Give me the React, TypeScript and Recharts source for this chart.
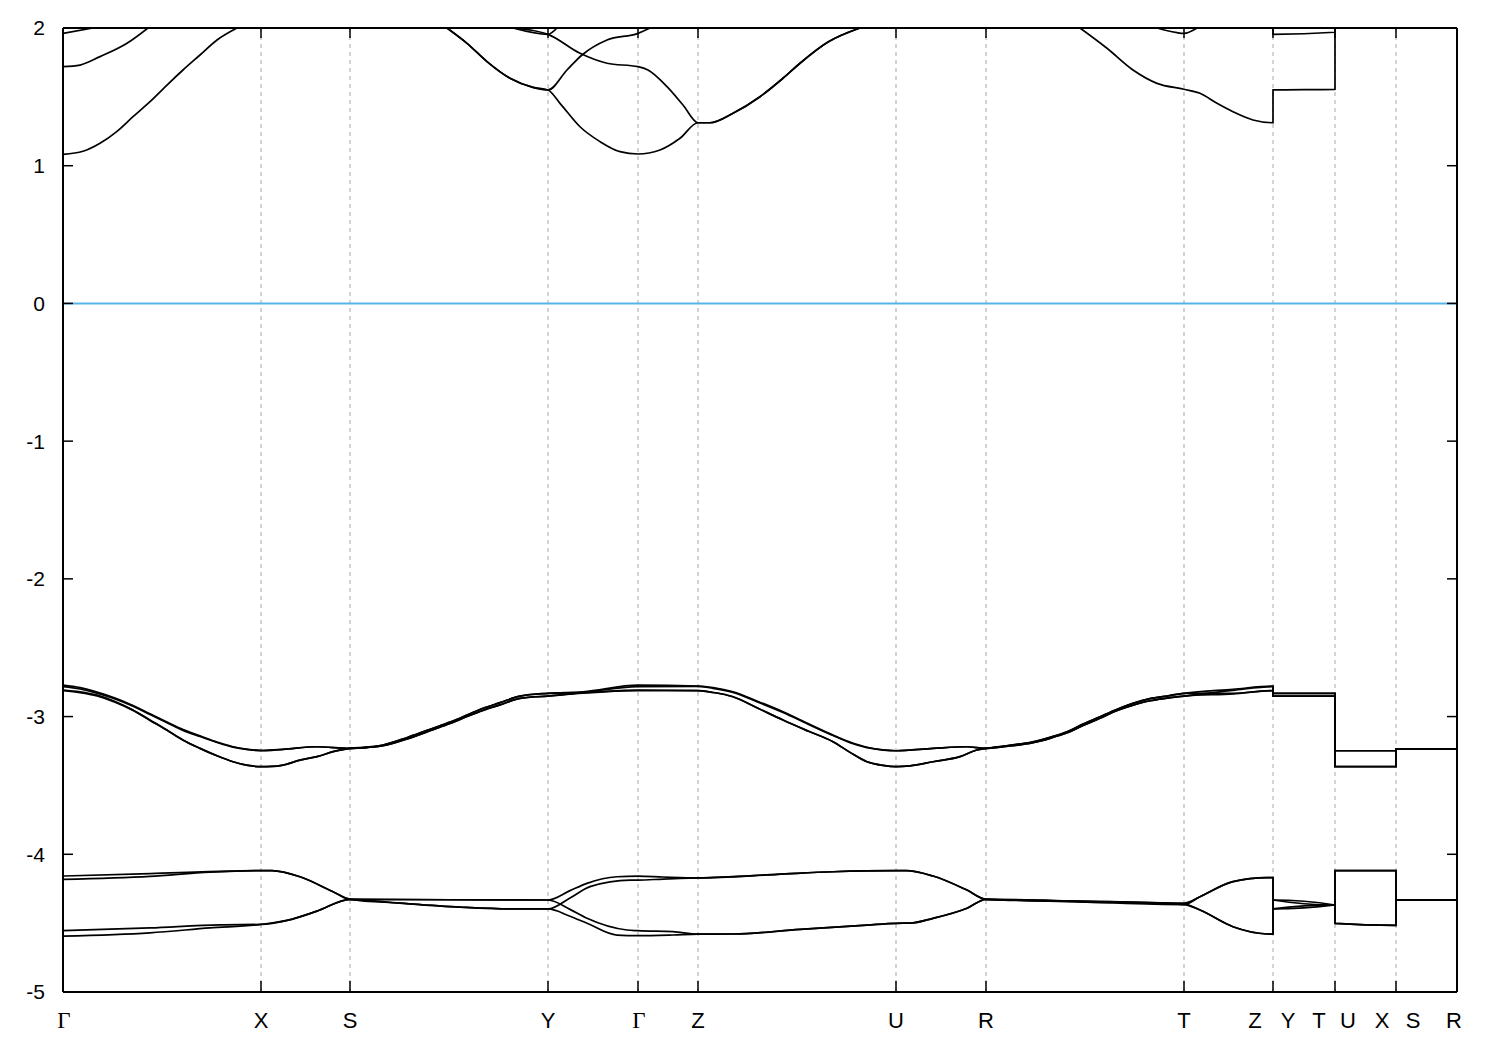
import React from "react";
import { LineChart, Line, XAxis, YAxis, CartesianGrid, ReferenceLine } from "recharts";

// k-path positions (path length units) and their labels
const KPOS = [0, 1.98, 2.87, 4.85, 5.75, 6.35, 8.33, 9.23, 11.21, 12.1, 12.72, 13.33, 13.94];
const KLABELS = ["Γ", "X", "S", "Y", "Γ", "Z", "U", "R", "T", "Z|Y", "T|U", "X|S", "R"];
const ETICKS = [-5, -4, -3, -2, -1, 0, 1, 2];

type Pt = [number, number | null];

// valence bands, upper group (~ -2.8 .. -3.4 eV)
const A1: Pt[] = [[0,-2.772],[0.17,-2.79],[0.34,-2.822],[0.52,-2.865],[0.7,-2.92],[0.87,-2.98],[1.04,-3.04],[1.2,-3.095],[1.37,-3.14],[1.54,-3.185],[1.7,-3.219],[1.85,-3.238],[1.98,-3.245],[2.2,-3.238],[2.54,-3.219],[2.87,-3.231],[3.04,-3.222],[3.2,-3.207],[3.45,-3.15],[3.7,-3.085],[3.87,-3.04],[4.04,-2.989],[4.2,-2.94],[4.37,-2.899],[4.57,-2.851],[4.85,-2.831],[5.2,-2.82],[5.75,-2.772],[6.35,-2.779],[6.5,-2.79],[6.7,-2.82],[6.95,-2.89],[7.2,-2.965],[7.45,-3.05],[7.7,-3.134],[7.87,-3.185],[8.04,-3.223],[8.2,-3.242],[8.33,-3.248],[8.7,-3.231],[9.04,-3.219],[9.23,-3.231],[9.45,-3.21],[9.7,-3.183],[9.87,-3.15],[10.04,-3.11],[10.2,-3.055],[10.37,-3.001],[10.53,-2.95],[10.7,-2.904],[10.87,-2.87],[11.04,-2.851],[11.21,-2.831],[11.7,-2.802],[12.1,-2.779],[12.1,-2.831],[12.72,-2.831],[12.72,-3.248],[13.33,-3.248],[13.33,-3.235],[13.94,-3.235]];
const A2: Pt[] = [[0,-2.783],[0.17,-2.8],[0.34,-2.83],[0.52,-2.872],[0.7,-2.925],[0.87,-2.985],[1.04,-3.045],[1.2,-3.1],[1.37,-3.145],[1.54,-3.188],[1.7,-3.222],[1.85,-3.24],[1.98,-3.248],[2.2,-3.238],[2.54,-3.219],[2.87,-3.231],[3.04,-3.225],[3.2,-3.212],[3.45,-3.16],[3.7,-3.095],[3.87,-3.05],[4.04,-3.0],[4.2,-2.955],[4.37,-2.915],[4.57,-2.868],[4.85,-2.851],[5.2,-2.825],[5.75,-2.783],[6.35,-2.781],[6.5,-2.795],[6.7,-2.825],[6.95,-2.895],[7.2,-2.97],[7.45,-3.055],[7.7,-3.138],[7.87,-3.19],[8.04,-3.226],[8.2,-3.243],[8.33,-3.248],[8.7,-3.231],[9.04,-3.219],[9.23,-3.231],[9.45,-3.215],[9.7,-3.19],[9.87,-3.158],[10.04,-3.118],[10.2,-3.065],[10.37,-3.012],[10.53,-2.96],[10.7,-2.918],[10.87,-2.885],[11.04,-2.866],[11.21,-2.851],[11.7,-2.81],[12.1,-2.783],[12.1,-2.851],[12.72,-2.851],[12.72,-3.248],[13.33,-3.248],[13.33,-3.235],[13.94,-3.235]];
const A3: Pt[] = [[0,-2.807],[0.17,-2.82],[0.34,-2.844],[0.52,-2.89],[0.7,-2.952],[0.87,-3.025],[1.04,-3.098],[1.2,-3.17],[1.37,-3.231],[1.54,-3.285],[1.7,-3.328],[1.85,-3.355],[1.98,-3.364],[2.09,-3.362],[2.2,-3.352],[2.37,-3.316],[2.54,-3.291],[2.7,-3.255],[2.87,-3.231],[3.04,-3.222],[3.2,-3.207],[3.45,-3.15],[3.7,-3.085],[3.87,-3.04],[4.04,-2.989],[4.2,-2.94],[4.37,-2.899],[4.57,-2.851],[4.85,-2.831],[5.2,-2.825],[5.75,-2.807],[6.35,-2.812],[6.5,-2.825],[6.7,-2.856],[6.95,-2.94],[7.2,-3.025],[7.45,-3.105],[7.7,-3.183],[7.87,-3.26],[8.04,-3.328],[8.2,-3.355],[8.33,-3.364],[8.47,-3.358],[8.7,-3.328],[8.97,-3.291],[9.14,-3.243],[9.23,-3.231],[9.45,-3.21],[9.7,-3.183],[9.87,-3.15],[10.04,-3.11],[10.2,-3.055],[10.37,-3.001],[10.53,-2.95],[10.7,-2.904],[10.87,-2.87],[11.04,-2.851],[11.21,-2.831],[11.7,-2.831],[12.1,-2.812],[12.1,-2.831],[12.72,-2.831],[12.72,-3.364],[13.33,-3.364],[13.33,-3.235],[13.94,-3.235]];
const A4: Pt[] = [[0,-2.812],[0.17,-2.826],[0.34,-2.85],[0.52,-2.895],[0.7,-2.955],[0.87,-3.028],[1.04,-3.1],[1.2,-3.172],[1.37,-3.231],[1.54,-3.285],[1.7,-3.328],[1.85,-3.355],[1.98,-3.364],[2.09,-3.362],[2.2,-3.352],[2.37,-3.316],[2.54,-3.291],[2.7,-3.255],[2.87,-3.231],[3.04,-3.225],[3.2,-3.212],[3.45,-3.16],[3.7,-3.095],[3.87,-3.05],[4.04,-3.0],[4.2,-2.955],[4.37,-2.915],[4.57,-2.868],[4.85,-2.851],[5.2,-2.83],[5.75,-2.812],[6.35,-2.812],[6.5,-2.825],[6.7,-2.856],[6.95,-2.94],[7.2,-3.025],[7.45,-3.105],[7.7,-3.183],[7.87,-3.26],[8.04,-3.328],[8.2,-3.355],[8.33,-3.364],[8.47,-3.358],[8.7,-3.328],[8.97,-3.291],[9.14,-3.243],[9.23,-3.231],[9.45,-3.215],[9.7,-3.19],[9.87,-3.158],[10.04,-3.118],[10.2,-3.065],[10.37,-3.012],[10.53,-2.96],[10.7,-2.918],[10.87,-2.885],[11.04,-2.866],[11.21,-2.851],[11.7,-2.835],[12.1,-2.812],[12.1,-2.851],[12.72,-2.851],[12.72,-3.364],[13.33,-3.364],[13.33,-3.235],[13.94,-3.235]];

// valence bands, lower group (~ -4.1 .. -4.6 eV)
const B1: Pt[] = [[0,-4.158],[0.87,-4.14],[1.67,-4.122],[1.98,-4.119],[2.09,-4.119],[2.37,-4.163],[2.7,-4.272],[2.87,-4.327],[3.87,-4.33],[4.85,-4.332],[5.07,-4.264],[5.24,-4.211],[5.54,-4.163],[5.75,-4.158],[6.0,-4.165],[6.35,-4.172],[7.14,-4.146],[7.7,-4.127],[8.33,-4.119],[8.43,-4.119],[8.7,-4.158],[9.04,-4.26],[9.23,-4.327],[10.17,-4.34],[11.21,-4.355],[11.37,-4.308],[11.7,-4.199],[12.04,-4.17],[12.1,-4.17],[12.1,-4.332],[12.72,-4.368],[12.72,-4.119],[13.33,-4.119],[13.33,-4.332],[13.94,-4.332]];
const B2: Pt[] = [[0,-4.182],[0.87,-4.16],[1.47,-4.13],[1.98,-4.119],[2.09,-4.119],[2.37,-4.163],[2.7,-4.272],[2.87,-4.327],[3.37,-4.355],[3.97,-4.384],[4.47,-4.397],[4.85,-4.397],[5.07,-4.317],[5.27,-4.235],[5.67,-4.187],[5.75,-4.187],[6.0,-4.18],[6.35,-4.172],[7.14,-4.146],[7.7,-4.127],[8.33,-4.119],[8.43,-4.119],[8.7,-4.158],[9.04,-4.26],[9.23,-4.327],[10.17,-4.345],[11.21,-4.365],[11.37,-4.308],[11.7,-4.199],[12.04,-4.17],[12.1,-4.17],[12.1,-4.397],[12.72,-4.368],[12.72,-4.119],[13.33,-4.119],[13.33,-4.332],[13.94,-4.332]];
const B3: Pt[] = [[0,-4.555],[0.87,-4.535],[1.57,-4.512],[1.98,-4.509],[2.24,-4.48],[2.54,-4.413],[2.87,-4.327],[3.87,-4.33],[4.85,-4.332],[5.07,-4.4],[5.24,-4.465],[5.64,-4.55],[5.75,-4.555],[6.1,-4.562],[6.35,-4.579],[6.7,-4.579],[7.37,-4.545],[8.04,-4.514],[8.33,-4.501],[8.47,-4.5],[8.7,-4.465],[9.04,-4.392],[9.23,-4.327],[10.17,-4.34],[11.21,-4.36],[11.37,-4.405],[11.7,-4.526],[12.04,-4.579],[12.1,-4.58],[12.1,-4.332],[12.72,-4.368],[12.72,-4.501],[13.33,-4.516],[13.33,-4.332],[13.94,-4.332]];
const B4: Pt[] = [[0,-4.594],[0.87,-4.57],[1.47,-4.535],[1.98,-4.509],[2.24,-4.48],[2.54,-4.413],[2.87,-4.327],[3.37,-4.355],[3.97,-4.384],[4.47,-4.397],[4.85,-4.397],[5.07,-4.45],[5.24,-4.501],[5.54,-4.587],[5.75,-4.591],[6.1,-4.586],[6.35,-4.58],[6.7,-4.579],[7.37,-4.545],[8.04,-4.514],[8.33,-4.501],[8.47,-4.5],[8.7,-4.465],[9.04,-4.392],[9.23,-4.327],[10.17,-4.345],[11.21,-4.365],[11.37,-4.405],[11.7,-4.526],[12.04,-4.579],[12.1,-4.58],[12.1,-4.397],[12.72,-4.368],[12.72,-4.501],[13.33,-4.516],[13.33,-4.332],[13.94,-4.332]];

// conduction bands (null = outside the 2 eV window)
const C1: Pt[] = [[0,1.083],[0.2,1.105],[0.37,1.163],[0.54,1.25],[0.7,1.356],[0.87,1.465],[1.04,1.586],[1.2,1.695],[1.37,1.804],[1.54,1.913],[1.74,2.0],[2.8,null],[3.84,2.0],[4.04,1.889],[4.24,1.756],[4.47,1.635],[4.7,1.569],[4.85,1.55],[4.97,1.453],[5.17,1.283],[5.37,1.175],[5.57,1.102],[5.75,1.085],[5.97,1.114],[6.17,1.199],[6.35,1.312],[6.47,1.312],[6.7,1.381],[6.97,1.501],[7.2,1.635],[7.37,1.744],[7.65,1.898],[7.97,2.0],[9.0,null],[10.17,2.0],[10.44,1.853],[10.7,1.695],[10.94,1.598],[11.21,1.555],[11.37,1.526],[11.54,1.453],[11.7,1.392],[11.9,1.332],[12.1,1.312],[12.1,1.55],[12.72,1.555],[12.72,2.0]];
const C2: Pt[] = [[0,1.719],[0.17,1.731],[0.37,1.792],[0.64,1.889],[0.85,2.0],[2.5,null],[4.5,2.0],[4.85,1.954],[5.17,1.816],[5.44,1.744],[5.75,1.719],[5.85,1.695],[6.04,1.574],[6.2,1.441],[6.35,1.312],[6.47,1.312],[6.7,1.381],[6.97,1.501],[7.2,1.635],[7.37,1.744],[7.65,1.898],[7.97,2.0],[9.5,null],[10.94,2.0],[11.14,1.966],[11.21,1.961],[11.34,2.0],[11.8,null],[12.1,2.0],[12.1,1.954],[12.72,1.969],[12.72,2.0]];
const C3: Pt[] = [[0,1.961],[0.3,2.0],[2.0,null],[3.84,2.0],[4.04,1.889],[4.24,1.756],[4.47,1.635],[4.7,1.569],[4.85,1.55],[5.04,1.695],[5.19,1.804],[5.44,1.913],[5.75,1.961],[5.87,2.0]];
const C4: Pt[] = [[4.5,2.0],[4.85,1.954],[4.94,2.0]];

const BANDS = [A1, A2, A3, A4, B1, B2, B3, B4, C1, C2, C3, C4];

// every axis shares the same domain; two bands are bound to the
// mirrored axes so that those axes get rendered (ticks + frame)
const AXIS_OF = (i: number): [string | number, string | number] =>
  i === 0 ? ["tt", "lt"] : i === 1 ? ["bt", "rt"] : [0, 0];

const toRows = (pts: Pt[]) => pts.map(([k, e]) => ({ k, e }));

const FONT = "'Liberation Sans', Arial, Helvetica, sans-serif";
const FRAME = { stroke: "#000", strokeWidth: 2 };

// inward tick mark drawn at the tick position handed over by the axis
const inTick = (dx: number, dy: number) => (props: any) => (
  <line x1={props.x} y1={props.y} x2={props.x + dx} y2={props.y + dy} stroke="#000" strokeWidth={1.5} />
);

// label offsets for the split ticks like "Z|Y"
const SPLIT_OFF: Record<string, [number, number]> = {
  "Z|Y": [-18, 15],
  "T|U": [-16, 13],
  "X|S": [-14, 17],
};

function KTick(props: any) {
  const { x, y, index } = props;
  const lab = KLABELS[index];
  const base = y + 36;
  if (lab.includes("|")) {
    const [l, r] = lab.split("|");
    const [dl, dr] = SPLIT_OFF[lab];
    return (
      <g>
        <text x={x + dl} y={base} textAnchor="middle" fontSize={22} fontFamily={FONT} fill="#000">{l}</text>
        <text x={x + dr} y={base} textAnchor="middle" fontSize={22} fontFamily={FONT} fill="#000">{r}</text>
      </g>
    );
  }
  const isGamma = lab === "Γ";
  return (
    <text x={x + (isGamma ? 1 : 0) - (index === KLABELS.length - 1 ? 3 : 0)} y={base} textAnchor="middle"
      fontSize={isGamma ? 23 : 22}
      fontFamily={isGamma ? "'Liberation Serif', 'Times New Roman', serif" : FONT} fill="#000">
      {lab}
    </text>
  );
}

export default function App() {
  return (
    <div style={{ position: "absolute", left: 0, top: 0, width: 1500, height: 1050, background: "#fff" }}>
      <LineChart width={1500} height={1050} margin={{ top: 28, right: 43, left: 0, bottom: 0 }}>
        <CartesianGrid horizontal={false} stroke="#a8a8a8" strokeDasharray="4 4" strokeWidth={1} />
        {/* labelled axes */}
        <XAxis dataKey="k" type="number" domain={[0, 13.94]} ticks={KPOS} allowDataOverflow
          height={58} tickSize={0} tickMargin={0} axisLine={FRAME} tickLine={false}
          tick={<KTick />} interval={0} />
        <YAxis type="number" domain={[-5, 2]} ticks={ETICKS} allowDataOverflow width={63}
          tickSize={0} tickMargin={18} interval={0} axisLine={FRAME} tickLine={false}
          tick={{ fill: "#000", fontSize: 21, fontFamily: FONT }} />
        {/* mirrored axes: inward tick marks and the top / right frame */}
        <XAxis xAxisId="bt" orientation="bottom" mirror dataKey="k" type="number" domain={[0, 13.94]}
          ticks={KPOS} allowDataOverflow height={20} tickSize={0} tickMargin={0} axisLine={false}
          tickLine={false} tick={inTick(0, -11)} interval={0} />
        <XAxis xAxisId="tt" orientation="top" mirror dataKey="k" type="number" domain={[0, 13.94]}
          ticks={KPOS} allowDataOverflow height={20} tickSize={0} tickMargin={0} axisLine={FRAME}
          tickLine={false} tick={inTick(0, 10)} interval={0} />
        <YAxis yAxisId="lt" orientation="left" mirror type="number" domain={[-5, 2]} ticks={ETICKS}
          allowDataOverflow width={20} tickSize={0} tickMargin={0} axisLine={false}
          tickLine={false} tick={inTick(10, 0)} interval={0} />
        <YAxis yAxisId="rt" orientation="right" mirror type="number" domain={[-5, 2]} ticks={ETICKS}
          allowDataOverflow width={20} tickSize={0} tickMargin={0} axisLine={FRAME}
          tickLine={false} tick={inTick(-10, 0)} interval={0} />
        <ReferenceLine y={0} stroke="#56b4e9" strokeWidth={2} />
        {BANDS.map((b, i) => {
          const [xa, ya] = AXIS_OF(i);
          return (
            <Line key={i} xAxisId={xa} yAxisId={ya}
              data={toRows(b)} dataKey="e" type="monotone" stroke="#000" strokeWidth={1.7}
              dot={false} activeDot={false} isAnimationActive={false} connectNulls={false} />
          );
        })}
      </LineChart>
    </div>
  );
}
